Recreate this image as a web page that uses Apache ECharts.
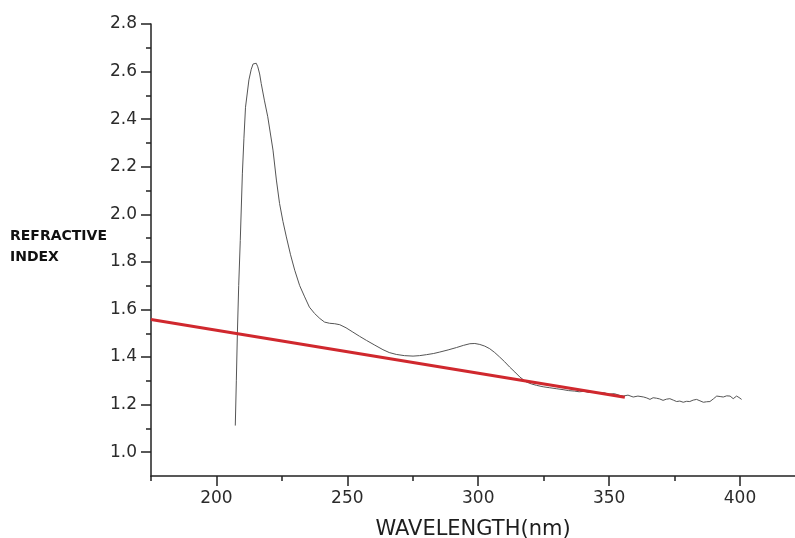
<!DOCTYPE html>
<html>
<head>
<meta charset="utf-8">
<title>Refractive index vs wavelength</title>
<script src="https://cdn.jsdelivr.net/npm/echarts@6/dist/echarts.min.js"></script>
<style>
  html, body { margin: 0; padding: 0; background: #ffffff; }
  #chart { width: 795px; height: 538px; }
</style>
</head>
<body>
<div id="chart"></div>
<script>
// Measured spectrum: wavelength (nm) and refractive index
const wavelength = [
  207.2, 207.6, 208.0, 208.5, 209.1, 209.9, 210.5, 211.1, 212.4, 213.3,
  214.0, 214.6, 215.2, 215.8, 216.5, 217.1, 218.3, 219.6, 221.6, 222.9,
  224.1, 225.4, 226.7, 228.3, 229.9, 231.8, 233.7, 235.5, 237.5, 239.5,
  241.3, 243.2, 245.2, 247.1, 249.5, 252.1, 254.7, 257.3, 260.5, 263.6,
  266.0, 268.7, 271.8, 275.1, 277.6, 280.2, 283.0, 285.3, 288.5, 291.7,
  294.3, 296.8, 298.7, 300.6, 302.5, 304.4, 306.3, 308.2, 310.1, 312.0,
  314.0, 315.9, 318.4, 320.3, 322.3, 324.8, 327.3, 329.8, 332.4, 334.5,
  336.7, 338.6, 340.5, 342.3, 344.0, 346.0, 348.0, 350.0, 352.0, 354.0,
  355.4, 357.2, 359.2, 361.0, 363.2, 364.4, 365.6, 366.8, 368.1, 369.3,
  370.6, 371.9, 373.2, 374.5, 375.8, 377.0, 378.3, 379.6, 380.8, 382.1,
  383.4, 384.7, 386.0, 387.2, 388.5, 389.8, 391.1, 392.4, 393.6, 394.9,
  396.2, 397.4, 398.7, 399.6, 400.6
];
const refractiveIndex = [
  1.112, 1.300, 1.500, 1.700, 1.890, 2.170, 2.320, 2.450, 2.565, 2.610,
  2.632, 2.640, 2.635, 2.620, 2.590, 2.550, 2.480, 2.410, 2.270, 2.144,
  2.046, 1.970, 1.905, 1.830, 1.765, 1.700, 1.653, 1.610, 1.583, 1.562,
  1.547, 1.542, 1.540, 1.536, 1.523, 1.505, 1.487, 1.470, 1.450, 1.431,
  1.419, 1.411, 1.406, 1.404, 1.406, 1.410, 1.415, 1.421, 1.430, 1.440,
  1.449, 1.456, 1.457, 1.453, 1.446, 1.435, 1.419, 1.400, 1.380, 1.358,
  1.337, 1.316, 1.295, 1.287, 1.281, 1.275, 1.271, 1.267, 1.263, 1.259,
  1.257, 1.254, 1.256, 1.251, 1.253, 1.248, 1.250, 1.244, 1.246, 1.239,
  1.236, 1.240, 1.232, 1.236, 1.232, 1.228, 1.222, 1.229, 1.227, 1.224,
  1.218, 1.223, 1.225, 1.219, 1.213, 1.215, 1.210, 1.214, 1.213, 1.219,
  1.222, 1.216, 1.210, 1.212, 1.213, 1.224, 1.236, 1.234, 1.232, 1.237,
  1.236, 1.225, 1.236, 1.230, 1.222
];

// Straight baseline drawn across the spectrum (end points)
const baselineWavelength = [175, 356];
const baselineIndex = [1.558, 1.231];

// Axis ticks
const xMajorTicks = [200, 250, 300, 350, 400];
const xMinorTicks = [175, 225, 275, 325, 375];
const yMajorTicks = [1.0, 1.2, 1.4, 1.6, 1.8, 2.0, 2.2, 2.4, 2.6, 2.8];
const yMinorTicks = [1.1, 1.3, 1.5, 1.7, 1.9, 2.1, 2.3, 2.5, 2.7];

const axisColor = '#222222';
const labelFont = { fontFamily: 'DejaVu Sans', fontSize: 17, color: '#2b2b2b' };

const chart = echarts.init(document.getElementById('chart'), null, { renderer: 'canvas' });

const zip = (xs, ys) => xs.map((x, i) => [x, ys[i]]);

chart.setOption({
  backgroundColor: '#ffffff',
  animation: false,
  // Y-axis caption sits to the left of the tick labels, left-aligned
  title: {
    text: 'REFRACTIVE\nINDEX',
    left: 10, top: 226, padding: 0,
    textStyle: { fontFamily: 'DejaVu Sans', fontWeight: 'bold', fontSize: 14,
                 color: '#111111', lineHeight: 21 }
  },
  grid: { left: 151, right: 0, top: 24, bottom: 62, outerBoundsMode: 'none', containLabel: false },
  xAxis: [
    {
      type: 'value', min: 175, max: 421, position: 'bottom',
      axisLine: { show: true, onZero: false, lineStyle: { color: axisColor, width: 1.5 } },
      axisTick: { show: true, customValues: xMajorTicks, length: 10, inside: false,
                  lineStyle: { color: axisColor, width: 1.5 } },
      axisLabel: { show: true, customValues: xMajorTicks, margin: 14, ...labelFont },
      splitLine: { show: false },
      name: 'WAVELENGTH(nm)', nameLocation: 'middle', nameGap: 43,
      nameTextStyle: { fontFamily: 'DejaVu Sans', fontSize: 21, color: '#1e1e1e' }
    },
    {
      type: 'value', min: 175, max: 421, position: 'bottom', offset: 0,
      axisLine: { show: false },
      axisTick: { show: true, customValues: xMinorTicks, length: 5,
                  lineStyle: { color: axisColor, width: 1.5 } },
      axisLabel: { show: false },
      splitLine: { show: false }
    }
  ],
  yAxis: [
    {
      type: 'value', min: 0.9, max: 2.8, position: 'left',
      axisLine: { show: true, onZero: false, lineStyle: { color: axisColor, width: 1.5 } },
      axisTick: { show: true, customValues: yMajorTicks, length: 10,
                  lineStyle: { color: axisColor, width: 1.5 } },
      axisLabel: { show: true, customValues: yMajorTicks, margin: 14,
                   formatter: v => Number(v).toFixed(1), ...labelFont },
      splitLine: { show: false }
    },
    {
      type: 'value', min: 0.9, max: 2.8, position: 'left', offset: 0,
      axisLine: { show: false },
      axisTick: { show: true, customValues: yMinorTicks, length: 5,
                  lineStyle: { color: axisColor, width: 1.5 } },
      axisLabel: { show: false },
      splitLine: { show: false }
    }
  ],
  series: [
    {
      name: 'Refractive index', type: 'line',
      xAxisIndex: 0, yAxisIndex: 0,
      data: zip(wavelength, refractiveIndex),
      showSymbol: false, smooth: false,
      lineStyle: { color: '#555555', width: 1 },
      z: 2
    },
    {
      name: 'Baseline', type: 'line',
      xAxisIndex: 0, yAxisIndex: 0,
      data: zip(baselineWavelength, baselineIndex),
      showSymbol: false,
      lineStyle: { color: '#d0282e', width: 3 },
      z: 3
    }
  ]
});
</script>
</body>
</html>
